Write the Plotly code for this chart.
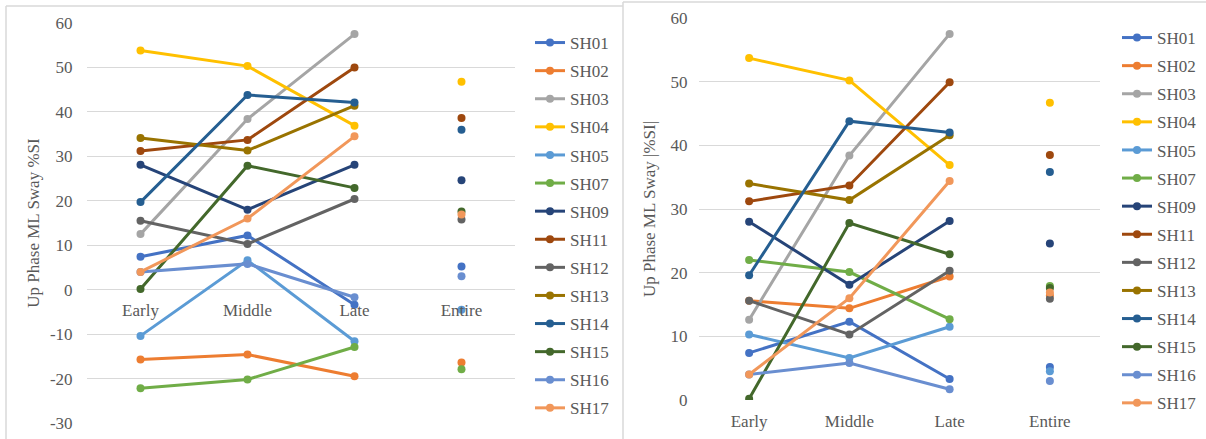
import plotly.graph_objects as go

categories = ["Early", "Middle", "Late", "Entire"]
subjects = ["SH01", "SH02", "SH03", "SH04", "SH05", "SH07", "SH09",
            "SH11", "SH12", "SH13", "SH14", "SH15", "SH16", "SH17"]
colors = ["#4472C4", "#ED7D31", "#A5A5A5", "#FFC000", "#5B9BD5", "#70AD47", "#264478",
          "#9E480E", "#636363", "#997300", "#255E91", "#43682B", "#698ED0", "#F1975A"]

# Left panel: signed %SI
si_early = [7.4, -15.7, 12.5, 53.8, -10.4, -22.2, 28.1, 31.2, 15.5, 34.1, 19.7, 0.15, 4.0, 4.0]
si_middle = [12.2, -14.6, 38.4, 50.3, 6.6, -20.2, 18.0, 33.7, 10.3, 31.3, 43.8, 27.9, 5.8, 16.0]
si_late = [-3.4, -19.5, 57.5, 36.9, -11.6, -12.9, 28.1, 50.0, 20.4, 41.4, 42.1, 22.9, -1.7, 34.5]
si_entire = [5.2, -16.4, None, 46.8, -4.5, -17.9, 24.6, 38.6, 15.8, None, 36.0, 17.6, 3.0, 16.9]

# Right panel: absolute |%SI|
abs_early = [7.4, 15.6, 12.6, 53.7, 10.3, 22.0, 28.0, 31.2, 15.6, 34.0, 19.6, 0.2, 4.0, 4.0]
abs_middle = [12.3, 14.4, 38.4, 50.2, 6.6, 20.1, 18.1, 33.7, 10.3, 31.4, 43.8, 27.8, 5.8, 16.0]
abs_late = [3.3, 19.4, 57.5, 36.9, 11.5, 12.7, 28.1, 49.9, 20.3, 41.6, 42.0, 22.9, 1.7, 34.4]
abs_entire = [5.2, 16.4, None, 46.7, 4.5, 17.9, 24.6, 38.5, 15.9, None, 35.8, 17.6, 3.0, 16.9]

left_ticks = [-30, -20, -10, 0, 10, 20, 30, 40, 50, 60]
left_ticktext = ["-30", "-20", "-10", "0", "10", "20", "30", "40", "50", "60"]
right_ticks = [0, 10, 20, 30, 40, 50, 60]
right_ticktext = ["0", "10", "20", "30", "40", "50", "60"]

W, H = 1206, 439
FONT = "Liberation Serif"
GREY = "#595959"
GRID = "#D9D9D9"


def px_x(p):
    return p / W


def px_y(p):
    return (H - p) / H


fig = go.Figure()

for i, name in enumerate(subjects):
    for panel, (e, m, l, n) in enumerate([
            (si_early, si_middle, si_late, si_entire),
            (abs_early, abs_middle, abs_late, abs_entire)]):
        xs = [categories[0], categories[1], categories[2], None, categories[3]]
        ys = [e[i], m[i], l[i], None, n[i]]
        fig.add_trace(go.Scatter(
            x=xs, y=ys, name=name, mode="lines+markers",
            line=dict(color=colors[i], width=3),
            marker=dict(color=colors[i], size=8),
            connectgaps=False,
            xaxis="x" if panel == 0 else "x2",
            yaxis="y" if panel == 0 else "y2",
            legend="legend" if panel == 0 else "legend2",
            legendgroup=f"{panel}_{name}",
        ))

axis_font = dict(family=FONT, size=17, color=GREY)

fig.update_layout(
    width=W, height=H,
    margin=dict(l=0, r=0, t=0, b=0, autoexpand=False),
    paper_bgcolor="white", plot_bgcolor="white",
    font=dict(family=FONT, size=17, color=GREY),
    showlegend=True,
    xaxis=dict(domain=[px_x(87), px_x(515)], type="category",
               categoryorder="array", categoryarray=categories,
               range=[-0.5, 3.5], anchor="free",
               position=px_y(290), showgrid=False, showline=False,
               ticks="outside", ticklen=5, tickcolor="rgba(0,0,0,0)",
               tickfont=axis_font, zeroline=False, automargin=False),
    yaxis=dict(domain=[px_y(423), px_y(23)], range=[-30, 60],
               tickvals=left_ticks, ticktext=left_ticktext,
               showgrid=True, gridcolor=GRID,
               gridwidth=1, zeroline=False, tickfont=axis_font,
               ticks="outside", ticklen=10, tickcolor="rgba(0,0,0,0)",
               anchor="x", automargin=False,
               title=dict(text="Up Phase ML Sway %SI", font=axis_font, standoff=5)),
    xaxis2=dict(domain=[px_x(699), px_x(1100)], type="category",
                categoryorder="array", categoryarray=categories,
                range=[-0.5, 3.5], anchor="y2", showgrid=False,
                showline=False, ticks="outside", ticklen=6,
                tickcolor="rgba(0,0,0,0)", tickfont=axis_font,
                zeroline=False, automargin=False),
    yaxis2=dict(domain=[px_y(400), px_y(18)], range=[0, 60],
                tickvals=right_ticks, ticktext=right_ticktext,
                showgrid=True, gridcolor=GRID,
                gridwidth=1, zeroline=False, tickfont=axis_font,
                ticks="outside", ticklen=7, tickcolor="rgba(0,0,0,0)",
                anchor="x2", automargin=False,
                title=dict(text="Up Phase ML Sway |%SI|", font=axis_font, standoff=10)),
    legend=dict(x=px_x(530), y=px_y(25), xanchor="left", yanchor="top",
                font=dict(family=FONT, size=17, color=GREY),
                tracegroupgap=3, bgcolor="rgba(0,0,0,0)", itemwidth=30),
    legend2=dict(x=px_x(1117), y=px_y(20), xanchor="left", yanchor="top",
                 font=dict(family=FONT, size=17, color=GREY),
                 tracegroupgap=3, bgcolor="rgba(0,0,0,0)", itemwidth=30),
    shapes=[
        dict(type="line", xref="paper", yref="paper", x0=px_x(6), x1=px_x(623),
             y0=px_y(6), y1=px_y(6), line=dict(color=GRID, width=1.5)),
        dict(type="line", xref="paper", yref="paper", x0=px_x(6), x1=px_x(6),
             y0=px_y(6), y1=0, line=dict(color=GRID, width=1.5)),
        dict(type="line", xref="paper", yref="paper", x0=px_x(623), x1=px_x(623),
             y0=px_y(2), y1=0, line=dict(color=GRID, width=1.5)),
        dict(type="line", xref="paper", yref="paper", x0=px_x(623), x1=1,
             y0=px_y(2), y1=px_y(2), line=dict(color=GRID, width=1.5)),
    ],
)

fig.write_html("out.html",
               config={"displayModeBar": False},
               post_script="document.body.style.margin='0';document.body.style.overflow='hidden';")
